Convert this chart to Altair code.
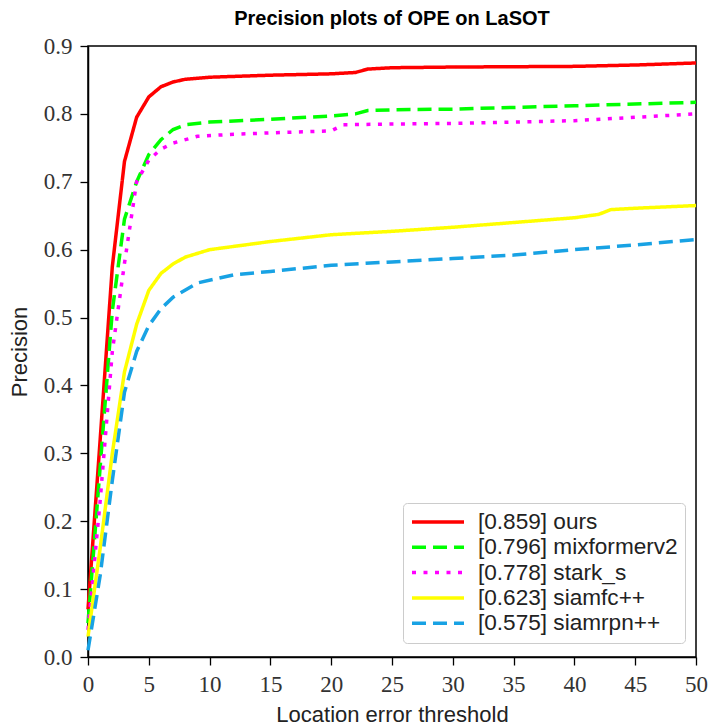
import altair as alt
import pandas as pd

# ---- data ----
labels = ["[0.859] ours", "[0.796] mixformerv2", "[0.778] stark_s",
          "[0.623] siamfc++", "[0.575] siamrpn++"]
colors = ["#ff0000", "#00ff00", "#ff00ff", "#ffff00", "#18a2e4"]
dashes = [[1, 0], [14, 7], [4, 7.5], [1, 0], [14, 7]]

ours_x = [0, 1, 2, 3, 4, 5, 6, 7, 8, 10, 15, 20, 22, 23, 25, 30, 40, 45, 50]
ours_y = [0.07, 0.32, 0.575, 0.73, 0.795, 0.825, 0.840, 0.847, 0.851, 0.854,
          0.857, 0.859, 0.861, 0.866, 0.868, 0.869, 0.870, 0.872, 0.875]

mix_x = [0, 1, 2, 3, 4, 5, 6, 7, 8, 10, 15, 20, 22, 23, 25, 30, 40, 50]
mix_y = [0.05, 0.28, 0.51, 0.645, 0.70, 0.74, 0.762, 0.777, 0.784, 0.788,
         0.792, 0.797, 0.800, 0.805, 0.806, 0.807, 0.812, 0.817]

stark_x = [0, 1, 2, 3, 4, 5, 6, 7, 9, 12, 15, 20, 21, 25, 30, 35, 40, 45, 50]
stark_y = [0.04, 0.23, 0.45, 0.58, 0.70, 0.732, 0.748, 0.757, 0.767, 0.770,
           0.772, 0.775, 0.784, 0.785, 0.786, 0.788, 0.790, 0.795, 0.800]

fc_x = [0, 1, 2, 3, 4, 5, 6, 7, 8, 10, 15, 20, 25, 30, 35, 40, 42, 43, 45, 50]
fc_y = [0.03, 0.16, 0.30, 0.42, 0.49, 0.54, 0.565, 0.579, 0.589, 0.600,
        0.612, 0.622, 0.627, 0.633, 0.640, 0.647, 0.652, 0.659, 0.661, 0.665]

rpn_x = [0, 1, 2, 3, 4, 5, 6, 7, 9, 12, 15, 20, 25, 30, 35, 40, 45, 50]
rpn_y = [0.01, 0.12, 0.26, 0.39, 0.45, 0.488, 0.513, 0.530, 0.551, 0.563,
         0.568, 0.577, 0.582, 0.587, 0.592, 0.600, 0.607, 0.615]

series = [(labels[0], ours_x, ours_y), (labels[1], mix_x, mix_y),
          (labels[2], stark_x, stark_y), (labels[3], fc_x, fc_y),
          (labels[4], rpn_x, rpn_y)]

rows = []
for order, (name, xs, ys) in enumerate(series):
    for x, y in zip(xs, ys):
        rows.append({"tracker": name, "x": x, "y": y, "k": order})
df = pd.DataFrame(rows)

SANS = "Liberation Sans"
SERIF = "Liberation Serif"

legend = alt.Legend(
    title=None, orient="none", legendX=315, legendY=457,
    symbolType="stroke", symbolSize=2704, symbolStrokeWidth=3.5,
    clipHeight=24, rowPadding=1.3, labelOffset=12, labelLimit=400,
    labelFont=SANS, labelFontSize=22.6, labelColor="#222222",
    padding=7, strokeColor="#cccccc", fillColor="rgba(255,255,255,0.85)",
    cornerRadius=4,
)

chart = alt.Chart(df).mark_line(strokeWidth=3.5, strokeCap="butt").encode(
    x=alt.X("x:Q", scale=alt.Scale(domain=[0, 50], nice=False),
            axis=alt.Axis(title="Location error threshold",
                          values=list(range(0, 51, 5)), format="d", labelFlush=False)),
    y=alt.Y("y:Q", scale=alt.Scale(domain=[0, 0.9], nice=False),
            axis=alt.Axis(title="Precision",
                          values=[i / 10 for i in range(10)], format=".1f", labelFlush=False)),
    color=alt.Color("tracker:N", scale=alt.Scale(domain=labels, range=colors),
                    legend=legend, sort=labels),
    strokeDash=alt.StrokeDash("tracker:N", scale=alt.Scale(domain=labels, range=dashes),
                              legend=legend, sort=labels),
    order=alt.Order("x:Q"),
).properties(
    width=608, height=611,
    title=alt.TitleParams("Precision plots of OPE on LaSOT", font=SANS, fontSize=20,
                          fontWeight="bold", color="black", anchor="middle", offset=6),
    autosize=alt.AutoSizeParams(type="none"),
    padding={"left": 80, "top": 38, "right": 12, "bottom": 70},
).configure_view(
    stroke="black", strokeWidth=1.5
).configure_axis(
    grid=False, domainColor="black", domainWidth=1.5, tickColor="black",
    tickWidth=1.3, tickSize=8, labelPadding=8,
    labelFont=SERIF, labelFontSize=23, labelColor="#333333",
    titleFont=SANS, titleFontSize=22, titleFontWeight="normal", titleColor="#222222",
).configure_axisY(titlePadding=12).configure_axisX(titlePadding=8)

chart.save("out.html", embed_options={"renderer": "svg", "actions": False})
